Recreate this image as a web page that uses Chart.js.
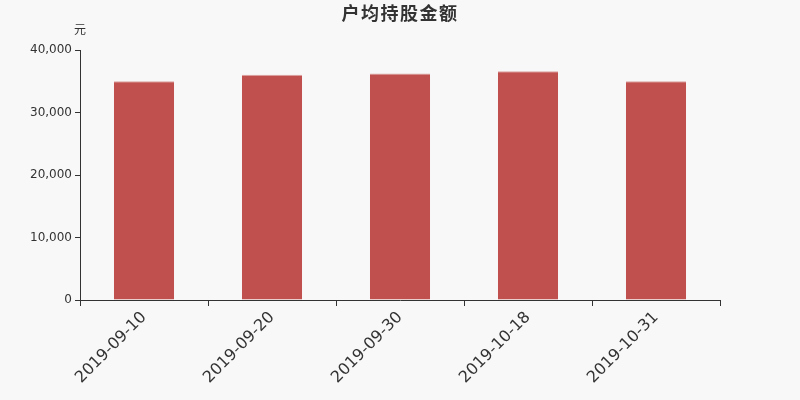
<!DOCTYPE html>
<html>
<head>
<meta charset="utf-8">
<script src="https://cdn.jsdelivr.net/npm/chart.js@4/dist/chart.umd.min.js"></script>
<style>
  html, body { margin: 0; padding: 0; background: #f8f8f8; }
  #box { width: 800px; height: 400px; }
</style>
</head>
<body>
<div id="box"><canvas id="myChart"></canvas></div>
<script>
// 户均持股金额 (元)
const labels = ['2019-09-10', '2019-09-20', '2019-09-30', '2019-10-18', '2019-10-31'];
const values = [35000, 36050, 36250, 36600, 35000];
const yTicks = [0, 10000, 20000, 30000, 40000];

const fontFamily = '"DejaVu Sans", "Noto Sans CJK SC", sans-serif';

// background + title + unit label
const decor = {
    id: 'decor',
    beforeDraw(chart) {
        const ctx = chart.ctx;
        ctx.save();
        ctx.fillStyle = '#f8f8f8';
        ctx.fillRect(0, 0, chart.width, chart.height);
        ctx.restore();
    },
    afterDraw(chart) {
        const ctx = chart.ctx;
        ctx.save();
        ctx.fillStyle = '#333';
        ctx.textAlign = 'center';
        ctx.textBaseline = 'middle';
        ctx.font = 'bold 18px "Noto Sans CJK SC", sans-serif';
        ctx.letterSpacing = '1.5px';
        ctx.fillText('户均持股金额', 400, 13);
        ctx.letterSpacing = '0px';
        ctx.font = '12px "Noto Sans CJK SC", sans-serif';
        ctx.fillText('元', 80, 29);
        ctx.restore();
    }
};

const config = {
    type: 'bar',
    data: {
        labels: labels,
        datasets: [{
            data: values,
            backgroundColor: '#c0504d',
            borderColor: '#dca3a1',
            borderWidth: { top: 1, left: 0, right: 0, bottom: 0 },
            borderSkipped: false,
            categoryPercentage: 0.47,
            barPercentage: 1.0
        }]
    },
    options: {
        responsive: true,
        maintainAspectRatio: false,
        animation: false,
        layout: { padding: { top: 50, right: 80, left: 0, bottom: 0 } },
        plugins: {
            legend: { display: false },
            title: { display: false },
            tooltip: { enabled: false }
        },
        scales: {
            x: {
                grid: { drawOnChartArea: false, drawTicks: true, tickLength: 6, color: '#333', offset: true },
                border: { color: '#333', width: 1 },
                ticks: {
                    color: '#333',
                    font: { family: fontFamily, size: 16 },
                    minRotation: 45,
                    maxRotation: 45,
                    padding: 2
                },
                afterFit(scale) { scale.height = 100; }
            },
            y: {
                min: 0,
                max: 40000,
                afterBuildTicks(scale) { scale.ticks = yTicks.map(v => ({ value: v })); },
                grid: { drawOnChartArea: false, drawTicks: true, tickLength: 5, color: '#333' },
                border: { color: '#333', width: 1 },
                ticks: {
                    color: '#333',
                    font: { family: fontFamily, size: 12 },
                    padding: 3,
                    callback: v => v.toLocaleString('en-US')
                },
                afterFit(scale) { scale.width = 80; }
            }
        }
    },
    plugins: [decor]
};

const myChart = new Chart(document.getElementById('myChart'), config);
</script>
</body>
</html>
